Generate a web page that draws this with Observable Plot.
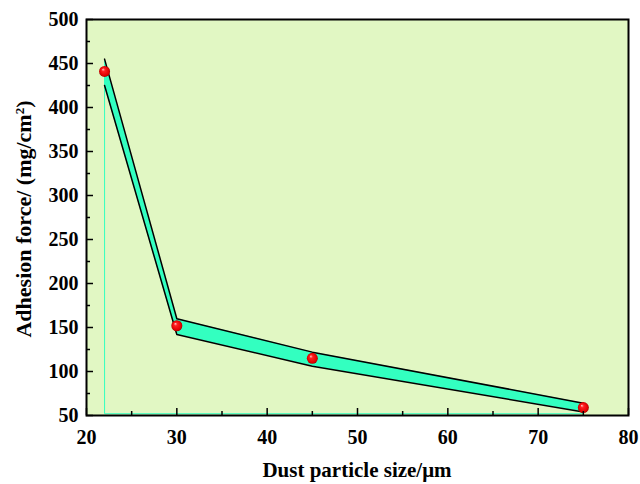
<!DOCTYPE html>
<html>
<head>
<meta charset="utf-8">
<script src="https://cdn.jsdelivr.net/npm/d3@7"></script>
<script src="https://cdn.jsdelivr.net/npm/@observablehq/plot@0.6"></script>
<style>
  html, body { margin: 0; padding: 0; background: #fff; }
  svg { font-family: "Liberation Serif", "Times New Roman", serif; }
  svg text { font-weight: bold; }
</style>
</head>
<body>
<div id="chart"></div>
<script>
// Data
const sizes = [22, 30, 45, 75];
const adhesion = [441, 152, 115, 59];
const upperBound = [455, 160, 122, 64];
const lowerBound = [425, 142, 106, 54];
const baseline = 52;
const xTicks = [20, 30, 40, 50, 60, 70, 80];
const xMinor = [25, 35, 45, 55, 65, 75];
const yTicks = [50, 100, 150, 200, 250, 300, 350, 400, 450, 500];
const yMinor = [75, 125, 175, 225, 275, 325, 375, 425, 475];

const band = sizes.map((x, i) => ({x, lo: lowerBound[i], hi: upperBound[i]}));
const pts = sizes.map((x, i) => ({x, y: adhesion[i]}));
const dropLine = [
  {x: sizes[0], y: adhesion[0]},
  {x: sizes[0], y: baseline},
  {x: sizes[sizes.length - 1], y: baseline}
];

const font = "Liberation Serif, Times New Roman, serif";

const chart = Plot.plot({
  width: 640,
  height: 484,
  marginLeft: 86,
  marginRight: 12,
  marginTop: 19,
  marginBottom: 69,
  style: {fontFamily: font, background: "white", fontWeight: "bold"},
  x: {domain: [20, 80], axis: null},
  y: {domain: [50, 500], axis: null},
  marks: [
    Plot.frame({fill: "#e1f7c3"}),
    Plot.line(dropLine, {x: "x", y: "y", stroke: "#33ffc0", strokeWidth: 1}),
    Plot.areaY(band, {x: "x", y1: "lo", y2: "hi", fill: "#33ffc0"}),
    Plot.line(band, {x: "x", y: "hi", stroke: "black", strokeWidth: 1.5}),
    Plot.line(band, {x: "x", y: "lo", stroke: "black", strokeWidth: 1.5}),
    Plot.dot(pts, {x: "x", y: "y", r: 5.5, fill: "url(#sphere)", stroke: "none"}),
    // inward ticks
    Plot.axisX(xTicks, {anchor: "bottom", tickSize: 7, dy: -7, text: null, label: null, strokeWidth: 1.5}),
    Plot.axisX(xMinor, {anchor: "bottom", tickSize: 4, dy: -4, text: null, label: null, strokeWidth: 1.5}),
    Plot.axisY(yTicks, {anchor: "left", tickSize: 7, dx: 7, text: null, label: null, strokeWidth: 1.5}),
    Plot.axisY(yMinor, {anchor: "left", tickSize: 4, dx: 4, text: null, label: null, strokeWidth: 1.5}),
    // tick labels
    Plot.text(xTicks, {x: d => d, y: 50, dy: 22, fontSize: 20, fontWeight: "bold", fill: "black", textAnchor: "middle"}),
    Plot.text(yTicks, {x: 20, y: d => d, dx: -8, fontSize: 20, fontWeight: "bold", fill: "black", textAnchor: "end"}),
    Plot.frame({stroke: "black", strokeWidth: 2})
  ]
});

const svg = d3.select(chart);
svg.selectAll("text").attr("font-weight", "bold").style("font-weight", "bold");
const defs = svg.insert("defs", ":first-child");
const g = defs.append("radialGradient").attr("id", "sphere")
  .attr("cx", "0.5").attr("cy", "0.5").attr("r", "0.5")
  .attr("fx", "0.35").attr("fy", "0.3");
g.append("stop").attr("offset", "0").attr("stop-color", "#ffd0d0");
g.append("stop").attr("offset", "0.3").attr("stop-color", "#ff2020");
g.append("stop").attr("offset", "0.85").attr("stop-color", "#e00000");
g.append("stop").attr("offset", "1").attr("stop-color", "#a00000");

// axis titles
svg.append("text")
  .attr("x", 357).attr("y", 477)
  .attr("text-anchor", "middle")
  .attr("font-size", 21).attr("font-weight", "bold")
  .attr("font-family", font)
  .text("Dust particle size/μm");

const yt = svg.append("text")
  .attr("transform", "translate(31,219) rotate(-90)")
  .attr("text-anchor", "middle")
  .attr("font-size", 22).attr("font-weight", "bold")
  .attr("font-family", font);
yt.append("tspan").text("Adhesion force/ (mg/cm");
yt.append("tspan").attr("baseline-shift", "super").attr("font-size", 13).text("2");
yt.append("tspan").text(")");

document.getElementById("chart").appendChild(chart);
</script>
</body>
</html>
